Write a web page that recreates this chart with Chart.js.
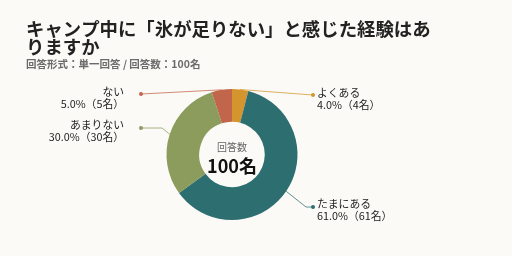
<!DOCTYPE html>
<html>
<head>
<meta charset="utf-8">
<script src="https://cdn.jsdelivr.net/npm/chart.js@4"></script>
<style>
  html, body { margin: 0; padding: 0; background: #fbfaf6; }
  #wrap { width: 512px; height: 256px; }
</style>
</head>
<body>
<div id="wrap"><canvas id="pieChart" width="512" height="256"></canvas></div>
<script>
const ctx = document.getElementById('pieChart').getContext('2d');

// Data
const labels = ['よくある', 'たまにある', 'あまりない', 'ない'];
const counts = [4, 61, 30, 5];
const percents = [4.0, 61.0, 30.0, 5.0];
const colors = ['#d4952f', '#2d6e71', '#8b9c5c', '#c2664b'];
const totalLabel = '100名';

const FONT = '"Noto Sans CJK JP", "Noto Sans", sans-serif';

// label placement per slice: dot, optional elbow, text side
const callouts = [
  { dot: [313, 95], elbow: null, side: 'right', ty: 93 },
  { dot: [313, 207], elbow: [306, 207], side: 'right', ty: 204 },
  { dot: [141, 128], elbow: [162, 128], side: 'left', ty: 125 },
  { dot: [141, 94], elbow: null, side: 'left', ty: 92 }
];

const textPlugin = {
  id: 'textPlugin',
  beforeDraw(chart) {
    const c = chart.ctx;
    c.save();
    c.fillStyle = '#fbfaf6';
    c.fillRect(0, 0, chart.width, chart.height);
    c.restore();
  },
  afterDraw(chart) {
    const c = chart.ctx;
    const meta = chart.getDatasetMeta(0);
    c.save();

    // title
    c.fillStyle = '#222';
    c.textBaseline = 'middle';
    c.textAlign = 'left';
    c.font = 'bold 18.4px ' + FONT;
    c.fillText('キャンプ中に「氷が足りない」と感じた経験はあ', 26, 29);
    c.fillText('りますか', 26, 47);
    c.fillStyle = '#6b6b6b';
    c.font = 'bold 10.5px ' + FONT;
    c.fillText('回答形式：単一回答 / 回答数：100名', 26, 64);

    // callouts
    meta.data.forEach((arc, i) => {
      const co = callouts[i];
      const mid = (arc.startAngle + arc.endAngle) / 2;
      const px = arc.x + Math.cos(mid) * arc.outerRadius;
      const py = arc.y + Math.sin(mid) * arc.outerRadius;
      c.strokeStyle = colors[i];
      c.globalAlpha = 0.75;
      c.lineWidth = 1;
      c.beginPath();
      c.moveTo(px, py);
      if (co.elbow) c.lineTo(co.elbow[0], co.elbow[1]);
      c.lineTo(co.dot[0], co.dot[1]);
      c.stroke();
      c.globalAlpha = 1;
      c.fillStyle = colors[i];
      c.beginPath();
      c.arc(co.dot[0], co.dot[1], 2, 0, Math.PI * 2);
      c.fill();

      c.fillStyle = '#222';
      c.font = '10.8px ' + FONT;
      const tx = co.side === 'right' ? co.dot[0] + 4 : co.dot[0] - 17;
      c.textAlign = co.side === 'right' ? 'left' : 'right';
      c.fillText(labels[i], tx, co.ty);
      c.fillText(percents[i].toFixed(1) + '%（' + counts[i] + '名）', tx, co.ty + 12);
    });

    // center text
    const a0 = meta.data[0];
    c.textAlign = 'center';
    c.fillStyle = '#666';
    c.font = '10px ' + FONT;
    c.fillText('回答数', a0.x, a0.y - 7);
    c.fillStyle = '#111';
    c.font = 'bold 18px ' + FONT;
    c.fillText(totalLabel, a0.x, a0.y + 12);
    c.restore();
  }
};

new Chart(ctx, {
  type: 'doughnut',
  data: {
    labels: labels,
    datasets: [{
      data: counts,
      backgroundColor: colors,
      borderWidth: 0
    }]
  },
  options: {
    responsive: false,
    animation: false,
    cutout: '50%',
    layout: { padding: { top: 89, bottom: 36, left: 100, right: 148 } },
    plugins: {
      legend: { display: false },
      tooltip: { enabled: false }
    }
  },
  plugins: [textPlugin]
});
</script>
</body>
</html>
